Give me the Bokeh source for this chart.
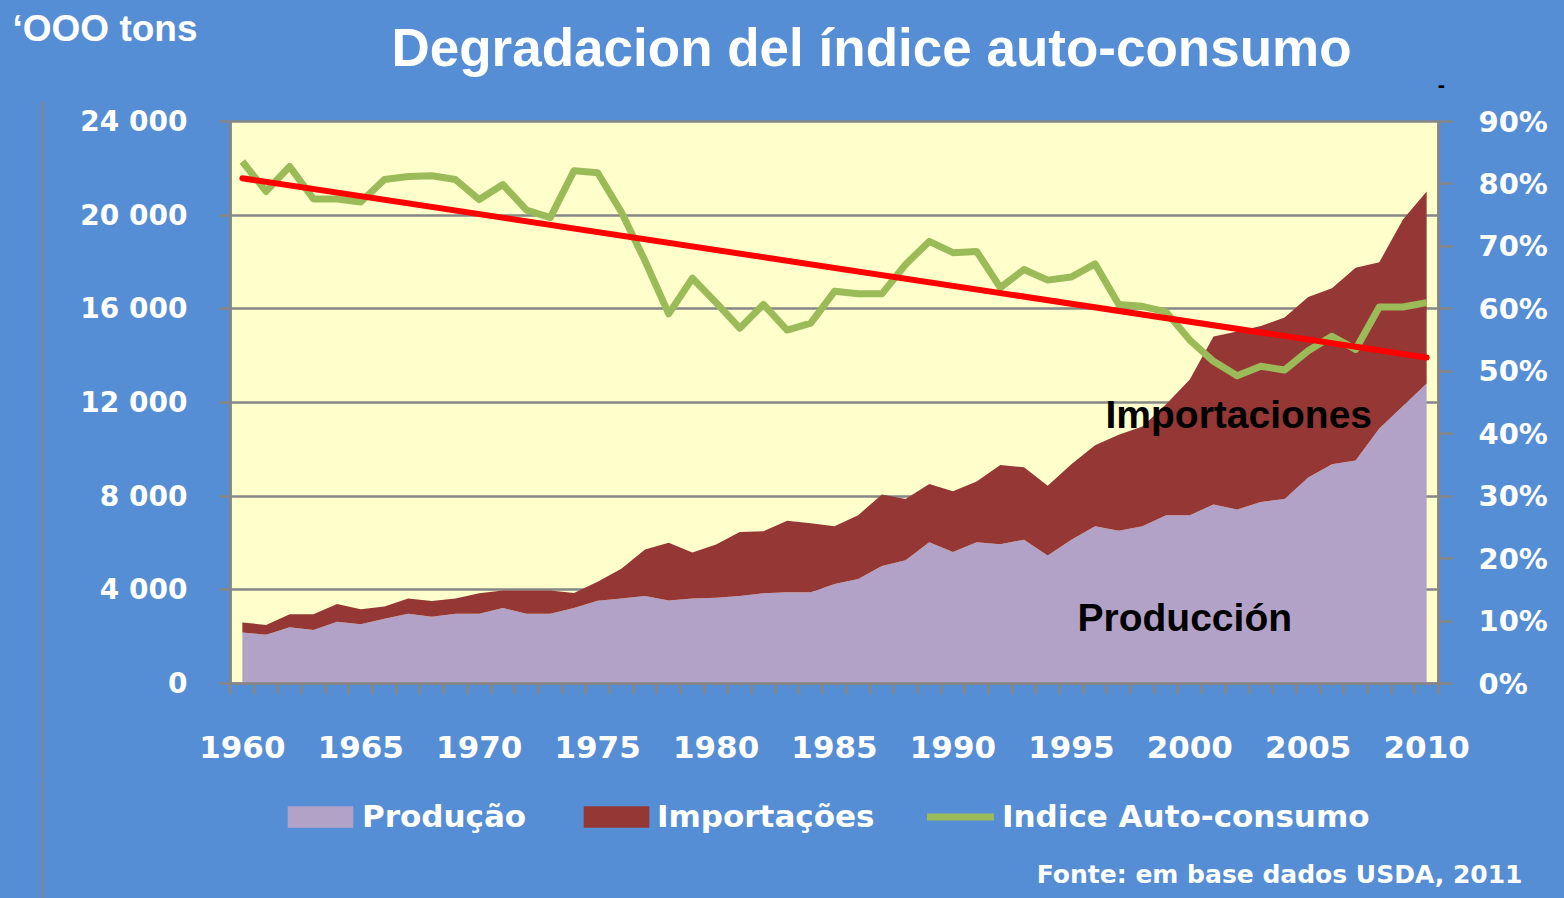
from bokeh.plotting import figure
from bokeh.layouts import column, row
from bokeh.models import (Range1d, LinearAxis, FixedTicker, Label, Legend,
                          LegendItem, ColumnDataSource)
from bokeh.embed import file_html
from bokeh.resources import INLINE

# ---------------- data ----------------
years = list(range(1960, 2011))
production = [2180, 2080, 2400, 2290, 2640, 2530, 2770, 2980, 2850, 2980,
              2980, 3220, 2980, 2980, 3220, 3530, 3630, 3740, 3540, 3630,
              3660, 3740, 3850, 3900, 3900, 4250, 4460, 5020, 5260, 6030,
              5620, 6030, 5950, 6140, 5470, 6140, 6710, 6520, 6710, 7190,
              7190, 7640, 7430, 7750, 7880, 8800, 9360, 9520, 10890, 11850,
              12810]
imports = [430, 420, 560, 670, 760, 640, 520, 645, 675, 645,
           870, 750, 995, 995, 640, 820, 1270, 1980, 2470, 1960,
           2280, 2730, 2650, 3050, 2940, 2460, 2730, 3050, 2620, 2490,
           2590, 2600, 3380, 3090, 2980, 3220, 3460, 4100, 4260, 4740,
           5790, 7180, 7600, 7520, 7750, 7710, 7520, 8230, 7100, 7960,
           8200]
self_consumption_pct = [83.6, 78.8, 82.8, 77.6, 77.6, 77.1, 80.7, 81.2, 81.3, 80.7,
                        77.5, 79.9, 75.8, 74.6, 82.1, 81.8, 75.5, 67.7, 59.2, 64.9,
                        61.0, 56.9, 60.7, 56.6, 57.7, 62.8, 62.4, 62.4, 67.1, 70.8,
                        69.0, 69.2, 63.4, 66.3, 64.6, 65.1, 67.2, 60.7, 60.4, 59.5,
                        55.0, 51.6, 49.3, 50.8, 50.2, 53.3, 55.6, 53.5, 60.3, 60.3,
                        61.0]
trend_years = [1960, 2010]
trend_pct = [80.9, 52.2]

y_ticks = [0, 4000, 8000, 12000, 16000, 20000, 24000]
y_tick_labels = ["0", "4 000", "8 000", "12 000", "16 000", "20 000", "24 000"]
pct_ticks = [0, 10, 20, 30, 40, 50, 60, 70, 80, 90]
pct_tick_labels = ["0%", "10%", "20%", "30%", "40%", "50%", "60%", "70%", "80%", "90%"]
x_label_years = [1960, 1965, 1970, 1975, 1980, 1985, 1990, 1995, 2000, 2005, 2010]

title_text = "Degradacion del índice auto-consumo"
unit_text = "\u2018OOO tons"
source_text = "Fonte: em base dados USDA, 2011"
legend_labels = ["Produção", "Importações", "Indice Auto-consumo"]

# ---------------- styling ----------------
BG = "#558ED5"
PLOT_BG = "#FFFFCC"
GRAY = "#868686"
C_PROD = "#B3A2C7"
C_IMP = "#953735"
C_IDX = "#9BBB59"
C_TREND = "#FF0000"


def blank(width, height, x0, x1, y_top, y_bottom):
    """A figure whose frame fills the whole canvas, data units = page pixels."""
    f = figure(width=width, height=height, output_backend="svg",
               toolbar_location=None, title=None,
               x_range=Range1d(x0, x1), y_range=Range1d(y_bottom, y_top),
               x_axis_type=None, y_axis_type=None, min_border=0)
    f.background_fill_color = BG
    f.border_fill_color = BG
    f.outline_line_color = None
    return f


TOP_H = 100

# ---------------- top band (title) ----------------
top = blank(1564, TOP_H, 0, 1564, 0, TOP_H)
top.add_layout(Label(x=871, y=47, text=title_text, text_align="center",
                     text_baseline="middle", text_font="Liberation Sans",
                     text_font_style="bold", text_font_size="53px", text_color="white"))
top.add_layout(Label(x=12, y=28, text=unit_text, text_align="left",
                     text_baseline="middle", text_font="Liberation Sans",
                     text_font_style="bold", text_font_size="37px", text_color="white"))
top.add_layout(Label(x=1441, y=84, text="-", text_align="center",
                     text_baseline="middle", text_font="Liberation Sans",
                     text_font_style="bold", text_font_size="22px", text_color="black"))

# ---------------- left strip ----------------
strip = blank(60, 780 - TOP_H, 0, 60, TOP_H, 780)
strip.segment(x0=[42], y0=[101], x1=[42], y1=[780], line_color=GRAY, line_width=2)

# ---------------- main chart ----------------
total = [a + b for a, b in zip(production, imports)]
src = ColumnDataSource(dict(year=years, prod=production, total=total,
                            zero=[0] * len(years), pct=self_consumption_pct))

p = figure(width=1504, height=780 - TOP_H, output_backend="svg", toolbar_location=None,
           title=None,
           x_range=Range1d(1959.5, 2010.5), y_range=Range1d(0, 24000),
           min_border_left=170, min_border_right=126,
           min_border_top=121 - TOP_H, min_border_bottom=97)
p.extra_y_ranges = {"pct": Range1d(0, 90)}
p.background_fill_color = PLOT_BG
p.border_fill_color = BG
p.outline_line_color = GRAY
p.outline_line_width = 2.5

r_prod = p.varea(x="year", y1="zero", y2="prod", source=src, fill_color=C_PROD)
r_imp = p.varea(x="year", y1="prod", y2="total", source=src, fill_color=C_IMP)
r_idx = p.line(x="year", y="pct", source=src, y_range_name="pct",
               line_color=C_IDX, line_width=7, line_join="round")
p.line(x=trend_years, y=trend_pct, y_range_name="pct",
       line_color=C_TREND, line_width=6, line_cap="round")

p.xgrid.visible = False
p.ygrid.ticker = FixedTicker(ticks=y_ticks)
p.ygrid.grid_line_color = GRAY
p.ygrid.grid_line_width = 2.5

TICK_FONT = "DejaVu Sans"

ya = p.yaxis[0]
ya.ticker = FixedTicker(ticks=y_ticks)
ya.major_label_overrides = {t: l for t, l in zip(y_ticks, y_tick_labels)}
ya.axis_line_color = GRAY
ya.axis_line_width = 2.5
ya.major_tick_line_color = GRAY
ya.major_tick_line_width = 2.5
ya.major_tick_out = 11
ya.major_tick_in = 0
ya.minor_tick_line_color = None
ya.major_label_standoff = 32
ya.major_label_text_font = TICK_FONT
ya.major_label_text_font_style = "bold"
ya.major_label_text_font_size = "28px"
ya.major_label_text_color = "white"

ra = LinearAxis(y_range_name="pct", ticker=FixedTicker(ticks=pct_ticks))
ra.major_label_overrides = {t: l for t, l in zip(pct_ticks, pct_tick_labels)}
ra.axis_line_color = GRAY
ra.axis_line_width = 2.5
ra.major_tick_line_color = GRAY
ra.major_tick_line_width = 2.5
ra.major_tick_out = 14
ra.major_tick_in = 0
ra.minor_tick_line_color = None
ra.major_label_standoff = 26
ra.major_label_text_font = TICK_FONT
ra.major_label_text_font_style = "bold"
ra.major_label_text_font_size = "29px"
ra.major_label_text_color = "white"
p.add_layout(ra, "right")

xa = p.xaxis[0]
xa.ticker = FixedTicker(ticks=x_label_years,
                        minor_ticks=[y - 0.5 for y in years] + [years[-1] + 0.5])
xa.major_label_overrides = {y: str(y) for y in x_label_years}
xa.axis_line_color = GRAY
xa.axis_line_width = 2.5
xa.major_tick_line_color = None
xa.major_tick_out = 0
xa.major_tick_in = 0
xa.minor_tick_line_color = GRAY
xa.minor_tick_line_width = 2.5
xa.minor_tick_out = 11
xa.minor_tick_in = 0
xa.major_label_standoff = 41
xa.major_label_text_font = TICK_FONT
xa.major_label_text_font_style = "bold"
xa.major_label_text_font_size = "31px"
xa.major_label_text_color = "white"

p.add_layout(Label(x=1996.44, y=11490, text="Importaciones", text_align="left",
                   text_baseline="middle", text_font="Liberation Sans",
                   text_font_style="bold", text_font_size="39px", text_color="black"))
p.add_layout(Label(x=1995.26, y=2820, text="Producción", text_align="left",
                   text_baseline="middle", text_font="Liberation Sans",
                   text_font_style="bold", text_font_size="39px", text_color="black"))

# ---------------- bottom band (legend + source) ----------------
bottom = blank(1564, 118, 0, 1564, 780, 898)
bottom.segment(x0=[42], y0=[780], x1=[42], y1=[898], line_color=GRAY, line_width=2)
swatch = ColumnDataSource(dict(x=[-10], y1=[0], y2=[0]))
d_prod = bottom.varea(x="x", y1="y1", y2="y2", source=swatch, fill_color=C_PROD)
d_imp = bottom.varea(x="x", y1="y1", y2="y2", source=swatch, fill_color=C_IMP)
d_idx = bottom.line(x="x", y="y1", source=swatch, line_color=C_IDX, line_width=7,
                    line_cap="round")

# (renderer, legend x, glyph width, glyph height, label standoff)
legend_specs = [(d_prod, 279, 82, 27, 1),
                (d_imp, 575, 82, 27, 0),
                (d_idx, 927, 67, 27, 8)]
for lab, (rend, vx, gw, gh, so) in zip(legend_labels, legend_specs):
    lg = Legend(items=[LegendItem(label=lab, renderers=[rend])],
                location=(vx, 64), orientation="horizontal",
                padding=0, margin=0, border_line_alpha=0, background_fill_alpha=0,
                glyph_width=gw, glyph_height=gh, label_standoff=so,
                label_text_font="DejaVu Sans", label_text_font_style="bold",
                label_text_font_size="31px", label_text_color="white")
    bottom.add_layout(lg, "center")

bottom.add_layout(Label(x=1522, y=874, text=source_text, text_align="right",
                        text_baseline="middle", text_font="DejaVu Sans",
                        text_font_style="bold", text_font_size="25px",
                        text_color="white"))

layout = column(top,
                row(strip, column(p, styles={"background-color": BG}),
                    styles={"background-color": BG}),
                bottom,
                styles={"background-color": BG})

open("out.html", "w").write(file_html(layout, INLINE))
